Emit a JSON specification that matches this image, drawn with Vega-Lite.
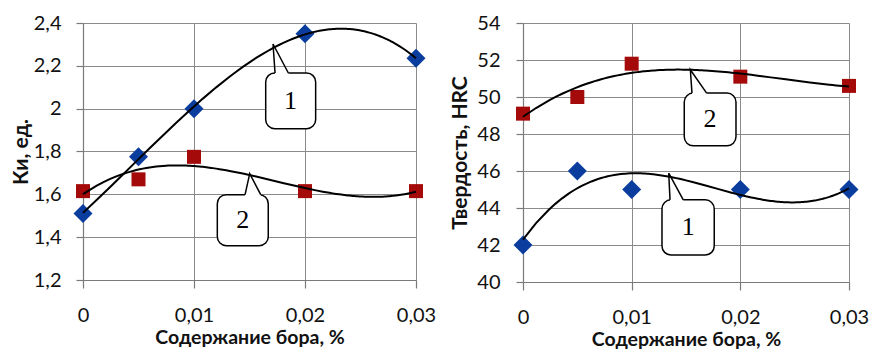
{
  "$schema": "https://vega.github.io/schema/vega-lite/v6.json",
  "padding": {"left": 10, "top": 13, "right": 0, "bottom": 0},
  "background": "white",
  "bounds": "flush",
  "spacing": 107,
  "config": {
    "view": {"stroke": null},
    "font": "Lato",
    "axis": {
      "labelFont": "Lato",
      "labelFontSize": 20,
      "labelColor": "#111111",
      "labelOverlap": false,
      "labelFlush": false,
      "titleFont": "Lato",
      "titleFontSize": 21,
      "titleFontWeight": "bold",
      "titleColor": "#111111",
      "gridColor": "#8a8a8a",
      "gridWidth": 1,
      "gridOpacity": 1,
      "domainColor": "#7a7a7a",
      "domainWidth": 1.2,
      "tickColor": "#7a7a7a",
      "tickWidth": 1.2
    },
    "axisQuantitative": {"labelOverlap": false},
    "axisX": {"tickSize": 8, "labelPadding": 17, "titlePadding": 3, "titleFontSize": 19.5, "labelOverlap": false, "labelFlush": false},
    "axisY": {"tickSize": 7, "labelPadding": 15, "labelOverlap": false}
  },
  "hconcat": [
    {
      "width": 333,
      "height": 257,
      "layer": [
        {
          "data": {"values": [
            {"x": 0, "y": 1.51, "s": "1"},
            {"x": 0.005, "y": 1.775, "s": "1"},
            {"x": 0.01, "y": 2.0, "s": "1"},
            {"x": 0.02, "y": 2.35, "s": "1"},
            {"x": 0.03, "y": 2.235, "s": "1"},
            {"x": 0, "y": 1.615, "s": "2"},
            {"x": 0.005, "y": 1.67, "s": "2"},
            {"x": 0.01, "y": 1.775, "s": "2"},
            {"x": 0.02, "y": 1.615, "s": "2"},
            {"x": 0.03, "y": 1.615, "s": "2"}
          ]},
          "layer": [
            {
              "mark": {"type": "point", "filled": true, "opacity": 1},
              "encoding": {
                "x": {"field": "x", "type": "quantitative",
                  "scale": {"domain": [0, 0.03], "nice": false, "zero": false},
                  "axis": {"values": [0, 0.01, 0.02, 0.03], "labelOverlap": false, "labelFlush": false, "labelExpr": "replace(toString(datum.value), '.', ',')", "title": "Содержание бора, %"}},
                "y": {"field": "y", "type": "quantitative",
                  "scale": {"domain": [1.2, 2.4], "nice": false, "zero": false},
                  "axis": {"values": [1.2, 1.4, 1.6, 1.8, 2, 2.2, 2.4], "labelOverlap": false, "labelExpr": "replace(toString(datum.value), '.', ',')", "title": "Ки, ед.", "titlePadding": 2}},
                "shape": {"field": "s", "type": "nominal", "scale": {"domain": ["1", "2"], "range": ["diamond", "square"]}, "legend": null},
                "color": {"field": "s", "type": "nominal", "scale": {"domain": ["1", "2"], "range": ["#0a3d9e", "#a50a0a"]}, "legend": null},
                "size": {"field": "s", "type": "nominal", "scale": {"domain": ["1", "2"], "range": [361, 196]}, "legend": null}
              }
            },
            {
              "transform": [{"regression": "y", "on": "x", "groupby": ["s"], "method": "poly", "order": 3, "extent": [0, 0.03]}],
              "mark": {"type": "line", "color": "black", "strokeWidth": 2},
              "encoding": {
                "x": {"field": "x", "type": "quantitative"},
                "y": {"field": "y", "type": "quantitative"},
                "detail": {"field": "s"}
              }
            }
          ]
        },
        {
          "data": {"values": [
            {"c": "1", "bx1": 0.01646, "bx2": 0.02096, "by1": 2.1666, "by2": 1.9066, "t1": 0.0173, "t2": 0.0185, "tx": 0.0187, "ty": 2.036},
            {"c": "2", "bx1": 0.0121, "bx2": 0.01669, "by1": 1.5984, "by2": 1.3603, "t1": 0.0146, "t2": 0.01601, "tx": 0.0144, "ty": 1.479}
          ]},
          "layer": [
            {
              "mark": {"type": "rect", "fill": "white", "stroke": "black", "strokeWidth": 1.5, "cornerRadius": 9},
              "encoding": {
                "x": {"field": "bx1", "type": "quantitative"},
                "x2": {"field": "bx2"},
                "y": {"field": "by1", "type": "quantitative"},
                "y2": {"field": "by2"}
              }
            },
            {
              "mark": {"type": "rule", "color": "white", "strokeWidth": 3},
              "encoding": {
                "x": {"field": "t1", "type": "quantitative"},
                "x2": {"field": "t2"},
                "y": {"field": "by1", "type": "quantitative"}
              }
            },
            {
              "mark": {"type": "text", "font": "Liberation Serif", "fontSize": 26, "color": "black", "baseline": "middle", "align": "center"},
              "encoding": {
                "x": {"field": "tx", "type": "quantitative"},
                "y": {"field": "ty", "type": "quantitative"},
                "text": {"field": "c"}
              }
            }
          ]
        },
        {
          "data": {"values": [
            {"c": "1", "o": 1, "cx": 0.0173, "cy": 2.1666},
            {"c": "1", "o": 2, "cx": 0.01712, "cy": 2.302},
            {"c": "1", "o": 3, "cx": 0.0185, "cy": 2.1666},
            {"c": "2", "o": 1, "cx": 0.0146, "cy": 1.5984},
            {"c": "2", "o": 2, "cx": 0.01502, "cy": 1.6965},
            {"c": "2", "o": 3, "cx": 0.01601, "cy": 1.5984}
          ]},
          "mark": {"type": "line", "color": "black", "strokeWidth": 1.5},
          "encoding": {
            "x": {"field": "cx", "type": "quantitative"},
            "y": {"field": "cy", "type": "quantitative"},
            "detail": {"field": "c"},
            "order": {"field": "o", "type": "quantitative"}
          }
        }
      ]
    },
    {
      "width": 326,
      "height": 259,
      "layer": [
        {
          "data": {"values": [
            {"x": 0, "y": 42, "s": "1"},
            {"x": 0.005, "y": 46, "s": "1"},
            {"x": 0.01, "y": 45, "s": "1"},
            {"x": 0.02, "y": 45, "s": "1"},
            {"x": 0.03, "y": 45, "s": "1"},
            {"x": 0, "y": 49.1, "s": "2"},
            {"x": 0.005, "y": 50, "s": "2"},
            {"x": 0.01, "y": 51.8, "s": "2"},
            {"x": 0.02, "y": 51.1, "s": "2"},
            {"x": 0.03, "y": 50.6, "s": "2"}
          ]},
          "layer": [
            {
              "mark": {"type": "point", "filled": true, "opacity": 1},
              "encoding": {
                "x": {"field": "x", "type": "quantitative",
                  "scale": {"domain": [0, 0.03], "nice": false, "zero": false},
                  "axis": {"values": [0, 0.01, 0.02, 0.03], "labelOverlap": false, "labelFlush": false, "labelExpr": "replace(toString(datum.value), '.', ',')", "title": "Содержание бора, %"}},
                "y": {"field": "y", "type": "quantitative",
                  "scale": {"domain": [40, 54], "nice": false, "zero": false},
                  "axis": {"values": [40, 42, 44, 46, 48, 50, 52, 54], "labelOverlap": false, "title": "Твердость, HRC", "titlePadding": 6, "labelPadding": 16}},
                "shape": {"field": "s", "type": "nominal", "scale": {"domain": ["1", "2"], "range": ["diamond", "square"]}, "legend": null},
                "color": {"field": "s", "type": "nominal", "scale": {"domain": ["1", "2"], "range": ["#0a2fb0", "#b00a0a"]}, "legend": null},
                "size": {"field": "s", "type": "nominal", "scale": {"domain": ["1", "2"], "range": [361, 196]}, "legend": null}
              }
            },
            {
              "transform": [{"regression": "y", "on": "x", "groupby": ["s"], "method": "poly", "order": 3, "extent": [0, 0.03]}],
              "mark": {"type": "line", "color": "black", "strokeWidth": 2},
              "encoding": {
                "x": {"field": "x", "type": "quantitative"},
                "y": {"field": "y", "type": "quantitative", "axis": {"values": [40, 42, 44, 46, 48, 50, 52, 54], "labelOverlap": false, "title": "Твердость, HRC", "titlePadding": 6, "labelPadding": 16}},
                "detail": {"field": "s"}
              }
            }
          ]
        },
        {
          "data": {"values": [
            {"c": "2", "bx1": 0.01484, "bx2": 0.0196, "by1": 50.212, "by2": 47.36, "t1": 0.01555, "t2": 0.0169, "tx": 0.0172, "ty": 48.79},
            {"c": "1", "bx1": 0.01279, "bx2": 0.0176, "by1": 44.44, "by2": 41.46, "t1": 0.01353, "t2": 0.01475, "tx": 0.0152, "ty": 42.95}
          ]},
          "layer": [
            {
              "mark": {"type": "rect", "fill": "white", "stroke": "black", "strokeWidth": 1.5, "cornerRadius": 9},
              "encoding": {
                "x": {"field": "bx1", "type": "quantitative"},
                "x2": {"field": "bx2"},
                "y": {"field": "by1", "type": "quantitative", "axis": {"values": [40, 42, 44, 46, 48, 50, 52, 54], "labelOverlap": false, "title": "Твердость, HRC", "titlePadding": 6, "labelPadding": 16}},
                "y2": {"field": "by2"}
              }
            },
            {
              "mark": {"type": "rule", "color": "white", "strokeWidth": 3},
              "encoding": {
                "x": {"field": "t1", "type": "quantitative"},
                "x2": {"field": "t2"},
                "y": {"field": "by1", "type": "quantitative", "axis": {"values": [40, 42, 44, 46, 48, 50, 52, 54], "labelOverlap": false, "title": "Твердость, HRC", "titlePadding": 6, "labelPadding": 16}}
              }
            },
            {
              "mark": {"type": "text", "font": "Liberation Serif", "fontSize": 26, "color": "black", "baseline": "middle", "align": "center"},
              "encoding": {
                "x": {"field": "tx", "type": "quantitative"},
                "y": {"field": "ty", "type": "quantitative", "axis": {"values": [40, 42, 44, 46, 48, 50, 52, 54], "labelOverlap": false, "title": "Твердость, HRC", "titlePadding": 6, "labelPadding": 16}},
                "text": {"field": "c"}
              }
            }
          ]
        },
        {
          "data": {"values": [
            {"c": "2", "o": 1, "cx": 0.01555, "cy": 50.212},
            {"c": "2", "o": 2, "cx": 0.0154, "cy": 51.473},
            {"c": "2", "o": 3, "cx": 0.0169, "cy": 50.212},
            {"c": "1", "o": 1, "cx": 0.01353, "cy": 44.44},
            {"c": "1", "o": 2, "cx": 0.01341, "cy": 45.88},
            {"c": "1", "o": 3, "cx": 0.01475, "cy": 44.44}
          ]},
          "mark": {"type": "line", "color": "black", "strokeWidth": 1.5},
          "encoding": {
            "x": {"field": "cx", "type": "quantitative"},
            "y": {"field": "cy", "type": "quantitative", "axis": {"values": [40, 42, 44, 46, 48, 50, 52, 54], "labelOverlap": false, "title": "Твердость, HRC", "titlePadding": 6, "labelPadding": 16}},
            "detail": {"field": "c"},
            "order": {"field": "o", "type": "quantitative"}
          }
        }
      ]
    }
  ]
}
